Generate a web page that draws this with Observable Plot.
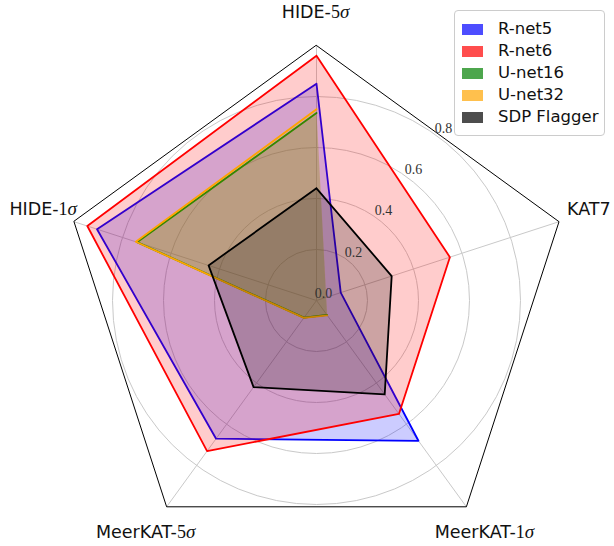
<!DOCTYPE html>
<html><head><meta charset="utf-8">
<script src="https://cdn.jsdelivr.net/npm/d3@7"></script>
<script src="https://cdn.jsdelivr.net/npm/@observablehq/plot@0.6"></script>
<style>
html,body{margin:0;padding:0;background:#fff;}
#wrap{position:relative;width:614px;height:546px;overflow:hidden;}
#legend{position:absolute;left:454px;top:10px;width:151px;height:126px;border:1px solid #cccccc;border-radius:4px;background:rgba(255,255,255,0.8);box-sizing:border-box;font-family:"DejaVu Sans",sans-serif;font-size:16.5px;color:#111;}
#legend .row{position:absolute;left:0;height:22px;line-height:22px;white-space:nowrap;}
#legend .sw{position:absolute;left:7px;top:5.5px;width:21px;height:11px;}
#legend .lab{position:absolute;left:43px;top:0;}
</style></head><body><div id="wrap"></div>
<script>
// ---- data ----
const axisLabels = ["HIDE-5σ", "KAT7", "MeerKAT-1σ", "MeerKAT-5σ", "HIDE-1σ"]; // clockwise from top
const models = ["R-net5", "R-net6", "U-net16", "U-net32", "SDP Flagger"];
const rnet5  = [0.85, 0.10, 0.68, 0.67, 0.905];
const rnet6  = [0.96, 0.55, 0.55, 0.73, 0.945];
const unet16 = [0.735, null, 0.07, 0.083, 0.74];   // no KAT7 value
const unet32 = [0.75, null, 0.072, 0.084, 0.745];  // no KAT7 value
const sdp    = [0.44, 0.31, 0.455, 0.42, 0.445];
const gridTicks = [0.2, 0.4, 0.6, 0.8];
const tickLabels = [0.0, 0.2, 0.4, 0.6, 0.8];
const rMax = 1.0;

const series = [rnet5, rnet6, unet16, unet32, sdp];
const lineColors = ["#0000ff", "#ff0000", "#008000", "#ffa500", "#000000"];
const legendColors = ["#4d4dff", "#ff4d4d", "#4da64d", "#ffc04d", "#4d4d4d"];

const N = axisLabels.length;
const theta = i => i * 2 * Math.PI / N;           // clockwise from north
const px = (v, i) => v == null ? NaN : v * Math.sin(theta(i));
const py = (v, i) => v == null ? NaN : v * Math.cos(theta(i));
const labelAngle = Math.PI / N;                     // halfway between first two axes

// closed sequence for outlines (gaps where a value is missing)
const outlineRows = models.flatMap((m, k) =>
  [...series[k].map((v, i) => ({model: m, k, i, value: v})), {model: m, k, i: 0, value: series[k][0]}]);
// polygon rows for fills (only defined values)
const fillRows = models.flatMap((m, k) =>
  series[k].map((v, i) => ({model: m, k, i, value: v})).filter(d => d.value != null));

const labelPlacement = [
  {anchor: "middle", dx: -1, dy: -33},
  {anchor: "start", dx: 8, dy: -12},
  {anchor: "middle", dx: 18, dy: 26},
  {anchor: "middle", dx: -21, dy: 26},
  {anchor: "end", dx: 3, dy: -12}
];

const plot = Plot.plot({
  width: 614,
  height: 546,
  margin: 0,
  x: {domain: [-rMax, rMax], range: [61, 571], axis: null},
  y: {domain: [-rMax, rMax], range: [555, 45], axis: null},
  r: {type: "linear", domain: [0, rMax], range: [0, 255]},
  style: {fontFamily: "DejaVu Sans", background: "white", overflow: "visible"},
  marks: [
    // circular grid
    Plot.dot(gridTicks, {x: 0, y: 0, r: d => d, stroke: "#c9c9c9", fill: "none", strokeWidth: 1}),
    // spokes
    Plot.link(axisLabels, {x1: 0, y1: 0, x2: (d, i) => px(rMax, i), y2: (d, i) => py(rMax, i), stroke: "#c9c9c9", strokeWidth: 1}),
    // pentagon frame
    Plot.line(axisLabels, {x: (d, i) => px(rMax, i), y: (d, i) => py(rMax, i), curve: "linear-closed", stroke: "#000", strokeWidth: 1, fill: "none"}),
    // series: outline then fill, in drawing order
    ...models.flatMap((m, k) => [
      Plot.line(outlineRows.filter(r => r.k === k), {
        x: d => px(d.value, d.i), y: d => py(d.value, d.i),
        curve: "linear", stroke: lineColors[k], strokeWidth: 1.8, strokeLinejoin: "round"
      }),
      Plot.line(fillRows.filter(r => r.k === k), {
        x: d => px(d.value, d.i), y: d => py(d.value, d.i),
        curve: "linear-closed", stroke: "none", fill: lineColors[k], fillOpacity: 0.2
      })
    ]),
    // radial tick labels
    Plot.text(tickLabels, {
      x: d => d * Math.sin(labelAngle), y: d => d * Math.cos(labelAngle),
      text: d => d.toFixed(1), dx: 7, dy: -7,
      fontFamily: "Liberation Serif", fontSize: 14, fill: "#333", lineAnchor: "middle"
    }),
    // axis labels
    ...axisLabels.map((lab, i) => Plot.text([lab], {
      x: () => px(rMax, i), y: () => py(rMax, i), text: d => d,
      textAnchor: labelPlacement[i].anchor, dx: labelPlacement[i].dx, dy: labelPlacement[i].dy,
      fontSize: 17.5, fill: "#111", lineAnchor: "middle"
    }))
  ]
});

// math-style digits and sigma in the axis labels
d3.select(plot).selectAll("text").each(function() {
  const t = this.textContent;
  const m = t.match(/^(.*-)(\d)(σ)$/);
  if (!m) return;
  const sel = d3.select(this);
  sel.text(null);
  sel.append("tspan").text(m[1]);
  sel.append("tspan").attr("font-family", "Liberation Serif").attr("font-size", "18px").text(m[2]);
  sel.append("tspan").attr("font-family", "Liberation Serif").attr("font-style", "italic").attr("font-size", "19px").text(m[3]);
});

const wrap = document.getElementById("wrap");
wrap.appendChild(plot);

// legend
const legend = document.createElement("div");
legend.id = "legend";
models.forEach((m, k) => {
  const row = document.createElement("div");
  row.className = "row";
  row.style.top = (7 + 22 * k) + "px";
  row.style.width = "100%";
  const sw = document.createElement("div");
  sw.className = "sw";
  sw.style.background = legendColors[k];
  const lab = document.createElement("div");
  lab.className = "lab";
  lab.textContent = m;
  row.appendChild(sw); row.appendChild(lab);
  legend.appendChild(row);
});
wrap.appendChild(legend);
</script>
</body></html>
